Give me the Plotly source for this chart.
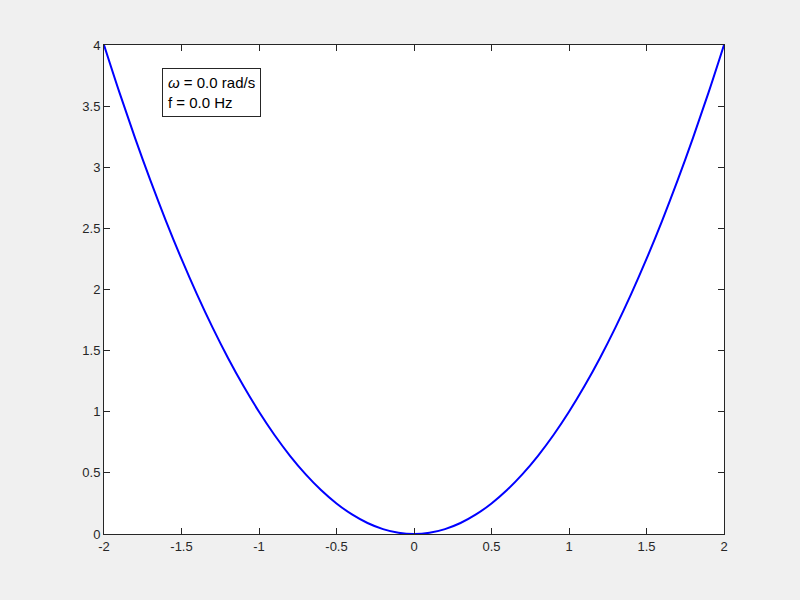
import plotly.graph_objects as go

# points
x_vals = [-2.0, -1.9, -1.8, -1.7, -1.6, -1.5, -1.4, -1.3, -1.2, -1.1, -1.0,
          -0.9, -0.8, -0.7, -0.6, -0.5, -0.4, -0.3, -0.2, -0.1, 0.0,
          0.1, 0.2, 0.3, 0.4, 0.5, 0.6, 0.7, 0.8, 0.9, 1.0,
          1.1, 1.2, 1.3, 1.4, 1.5, 1.6, 1.7, 1.8, 1.9, 2.0]
y_vals = [4.0, 3.61, 3.24, 2.89, 2.56, 2.25, 1.96, 1.69, 1.44, 1.21, 1.0,
          0.81, 0.64, 0.49, 0.36, 0.25, 0.16, 0.09, 0.04, 0.01, 0.0,
          0.01, 0.04, 0.09, 0.16, 0.25, 0.36, 0.49, 0.64, 0.81, 1.0,
          1.21, 1.44, 1.69, 1.96, 2.25, 2.56, 2.89, 3.24, 3.61, 4.0]

x_ticks = [-2, -1.5, -1, -0.5, 0, 0.5, 1, 1.5, 2]
x_tick_text = ['-2', '-1.5', '-1', '-0.5', '0', '0.5', '1', '1.5', '2']
y_ticks = [0, 0.5, 1, 1.5, 2, 2.5, 3, 3.5, 4]
y_tick_text = ['0', '0.5', '1', '1.5', '2', '2.5', '3', '3.5', '4']

omega = 0.0
freq = 0.0

fig = go.Figure(go.Scatter(x=x_vals, y=y_vals, mode='lines',
                           line=dict(color='#0000ff', width=2, shape='spline'),
                           showlegend=False))

axis_style = dict(showgrid=False, zeroline=False, showline=True, linecolor='#262626',
                  linewidth=1, mirror='ticks', ticks='inside', ticklen=6,
                  tickcolor='#262626', tickfont=dict(size=13, color='#262626'))

fig.update_layout(
    width=800, height=600,
    paper_bgcolor='#f0f0f0', plot_bgcolor='#ffffff',
    margin=dict(l=104, r=76, t=45, b=66),
    font=dict(family='Liberation Sans, Arial, sans-serif'),
    xaxis=dict(range=[-2, 2], tickvals=x_ticks, ticktext=x_tick_text, **axis_style),
    yaxis=dict(range=[0, 4], tickvals=y_ticks, ticktext=y_tick_text, **axis_style),
)

fig.add_annotation(
    xref='paper', yref='paper', x=0.094, y=0.953, xanchor='left', yanchor='top',
    text='<i>\u03c9</i> = %.1f rad/s<br>f = %.1f Hz' % (omega, freq),
    showarrow=False, align='left', font=dict(size=15, color='#000000'),
    bgcolor='#ffffff', bordercolor='#262626', borderwidth=1, borderpad=5,
)

# drop the default page margin so the figure sits at the window corner
fig.write_html("out.html", config={'displayModeBar': False},
               post_script="document.body.style.margin='0';")
